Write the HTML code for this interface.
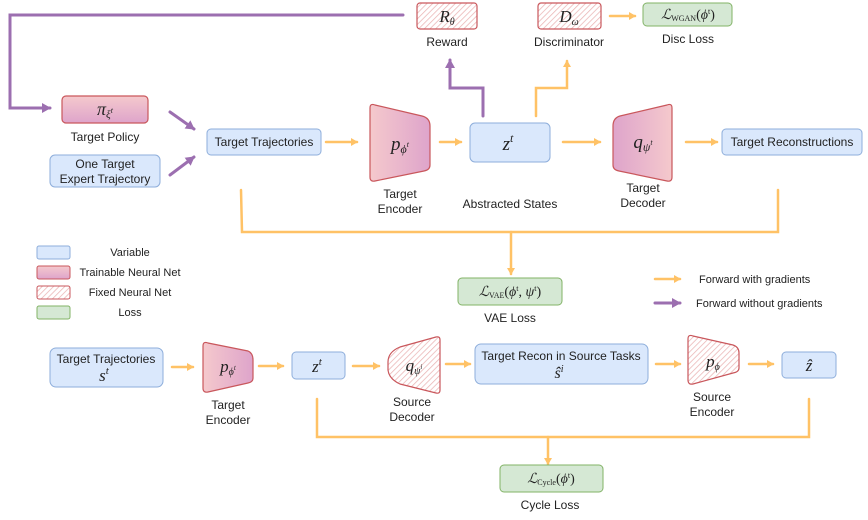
<!DOCTYPE html>
<html><head><meta charset="utf-8"><style>
html,body{margin:0;padding:0;background:#fff;}
svg{display:block;}
text{font-family:"Liberation Sans",sans-serif;fill:#222;}
.m{font-family:"Liberation Serif",serif;font-style:italic;font-weight:normal;}
.mr{font-family:"Liberation Serif",serif;}
</style></head><body>
<svg width="868" height="520" viewBox="0 0 868 520" xmlns="http://www.w3.org/2000/svg">
<defs>
<linearGradient id="gE" x1="0" x2="1"><stop offset="0" stop-color="#f5c9cc"/><stop offset="1" stop-color="#dea4cb"/></linearGradient>
<linearGradient id="gD" x1="0" x2="1"><stop offset="0" stop-color="#dea4cb"/><stop offset="1" stop-color="#f5c9cc"/></linearGradient>
<linearGradient id="gP" x1="0" x2="0" y1="0" y2="1"><stop offset="0" stop-color="#f5c9cc"/><stop offset="1" stop-color="#dea4cb"/></linearGradient>
<pattern id="h" width="4" height="4" patternUnits="userSpaceOnUse" patternTransform="rotate(45)"><rect width="4" height="4" fill="#fff"/><line x1="0" y1="0" x2="0" y2="4" stroke="#eab3b3" stroke-width="1.5"/></pattern>
<marker id="ao" markerWidth="8" markerHeight="8" refX="6" refY="4" orient="auto" markerUnits="userSpaceOnUse"><path d="M0,0 L7,4 L0,8 Z" fill="#ffc266"/></marker>
<marker id="ap" markerWidth="10" markerHeight="10" refX="8" refY="5" orient="auto" markerUnits="userSpaceOnUse"><path d="M0,0 L9,5 L0,10 Z" fill="#9c6fb0"/></marker>
</defs>
<g fill="none" stroke-width="3" stroke-linecap="round">
<path d="M403,15 L10,15 L10,108 L50,108" stroke="#9c6fb0" marker-end="url(#ap)"/>
<path d="M170,112 L194,129" stroke="#9c6fb0" marker-end="url(#ap)"/>
<path d="M170,175 L194,157" stroke="#9c6fb0" marker-end="url(#ap)"/>
<path d="M483,116 L483,88 L450,88 L450,60" stroke="#9c6fb0" marker-end="url(#ap)"/>
<path d="M655,303 L680,303" stroke="#9c6fb0" marker-end="url(#ap)"/>
</g>
<g fill="none" stroke="#ffc266" stroke-width="2.5" stroke-linecap="round">
<path d="M326,142 L357,142" marker-end="url(#ao)"/>
<path d="M440,142 L461,142" marker-end="url(#ao)"/>
<path d="M563,142 L600,142" marker-end="url(#ao)"/>
<path d="M686,142 L717,142" marker-end="url(#ao)"/>
<path d="M536,116 L536,88 L567,88 L567,61" marker-end="url(#ao)"/>
<path d="M610,16 L635,16" marker-end="url(#ao)"/>
<path d="M241,190 L242,232 L778,232 L778,190"/>
<path d="M511,232 L511,274" marker-end="url(#ao)"/>
<path d="M655,279 L680,279" marker-end="url(#ao)"/>
<path d="M172,367 L193,367" marker-end="url(#ao)"/>
<path d="M259,366 L283,366" marker-end="url(#ao)"/>
<path d="M353,366 L379,366" marker-end="url(#ao)"/>
<path d="M446,364 L470,364" marker-end="url(#ao)"/>
<path d="M656,364 L680,364" marker-end="url(#ao)"/>
<path d="M749,364 L773,364" marker-end="url(#ao)"/>
<path d="M317,399 L317,437 L809,437 L809,399"/>
<path d="M548,437 L548,464" marker-end="url(#ao)"/>
</g>
<rect x="62" y="96" width="86" height="27" rx="4" fill="url(#gP)" stroke="#c9575c" stroke-width="1.2"/>
<text x="105" y="115" text-anchor="middle" class="m" font-size="18">π<tspan font-size="11" dy="3">ξ</tspan><tspan font-size="8" dy="-5">t</tspan></text>
<text x="105" y="141" text-anchor="middle" font-size="12">Target Policy</text>
<rect x="50" y="155" width="110" height="32" rx="5" fill="#dae8fc" stroke="#8eaedb" stroke-width="1"/>
<text x="105" y="168" text-anchor="middle" font-size="12">One Target</text>
<text x="105" y="183" text-anchor="middle" font-size="12">Expert Trajectory</text>
<rect x="207" y="129" width="114" height="26" rx="4" fill="#dae8fc" stroke="#8eaedb" stroke-width="1"/>
<text x="264" y="146" text-anchor="middle" font-size="12">Target Trajectories</text>
<path d="M370,108 Q370,103 375,105 L422,116 Q430,118 430,126 L430,165 Q430,170 424,171 L375,181 Q370,182 370,177 Z" fill="url(#gE)" stroke="#c9575c" stroke-width="1.2"/>
<text x="400" y="150" text-anchor="middle" class="m" font-size="19">p<tspan font-size="12" dy="3">ϕ</tspan><tspan font-size="8" dy="-6">t</tspan></text>
<text x="400" y="198" text-anchor="middle" font-size="12">Target</text>
<text x="400" y="213" text-anchor="middle" font-size="12">Encoder</text>
<rect x="470" y="123" width="80" height="39" rx="5" fill="#dae8fc" stroke="#8eaedb" stroke-width="1"/>
<text x="508" y="150" text-anchor="middle" class="m" font-size="19">z<tspan font-size="12" dy="-8">t</tspan></text>
<text x="510" y="208" text-anchor="middle" font-size="12">Abstracted States</text>
<path d="M672,108 Q672,103 667,105 L620,116 Q613,118 613,126 L613,165 Q613,170 619,171 L667,181 Q672,182 672,177 Z" fill="url(#gD)" stroke="#c9575c" stroke-width="1.2"/>
<text x="643" y="148" text-anchor="middle" class="m" font-size="19">q<tspan font-size="12" dy="3">ψ</tspan><tspan font-size="8" dy="-6">t</tspan></text>
<text x="643" y="192" text-anchor="middle" font-size="12">Target</text>
<text x="643" y="207" text-anchor="middle" font-size="12">Decoder</text>
<rect x="722" y="129" width="140" height="26" rx="4" fill="#dae8fc" stroke="#8eaedb" stroke-width="1"/>
<text x="792" y="146" text-anchor="middle" font-size="12">Target Reconstructions</text>
<rect x="417" y="3" width="60" height="26" rx="3" fill="url(#h)" stroke="#c9575c" stroke-width="1.2"/>
<text x="447" y="22" text-anchor="middle" class="m" font-size="17">R<tspan font-size="10" dy="3">θ</tspan></text>
<text x="447" y="46" text-anchor="middle" font-size="12">Reward</text>
<rect x="538" y="3" width="63" height="26" rx="3" fill="url(#h)" stroke="#c9575c" stroke-width="1.2"/>
<text x="569" y="22" text-anchor="middle" class="m" font-size="17">D<tspan font-size="10" dy="3">ω</tspan></text>
<text x="569" y="46" text-anchor="middle" font-size="12">Discriminator</text>
<rect x="643" y="3" width="89" height="23" rx="4" fill="#d5e8d4" stroke="#82b366" stroke-width="1"/>
<text x="688" y="19" text-anchor="middle" class="mr" font-size="14"><tspan font-style="italic">ℒ</tspan><tspan font-size="8" dy="2">WGAN</tspan><tspan dy="-2">(</tspan><tspan font-style="italic">ϕ</tspan><tspan font-size="8" dy="-5">t</tspan><tspan dy="5">)</tspan></text>
<text x="688" y="43" text-anchor="middle" font-size="12">Disc Loss</text>
<rect x="458" y="278" width="104" height="27" rx="4" fill="#d5e8d4" stroke="#82b366" stroke-width="1"/>
<text x="510" y="296" text-anchor="middle" class="mr" font-size="14"><tspan font-style="italic">ℒ</tspan><tspan font-size="8" dy="2">VAE</tspan><tspan dy="-2">(</tspan><tspan font-style="italic">ϕ</tspan><tspan font-size="8" dy="-5">t</tspan><tspan dy="5">, </tspan><tspan font-style="italic">ψ</tspan><tspan font-size="8" dy="-5">t</tspan><tspan dy="5">)</tspan></text>
<text x="510" y="322" text-anchor="middle" font-size="12">VAE Loss</text>
<rect x="37" y="246" width="33" height="13" rx="2" fill="#dae8fc" stroke="#8eaedb"/>
<rect x="37" y="266" width="33" height="13" rx="2" fill="url(#gP)" stroke="#c9575c"/>
<rect x="37" y="286" width="33" height="13" rx="2" fill="url(#h)" stroke="#c9575c"/>
<rect x="37" y="306" width="33" height="13" rx="2" fill="#d5e8d4" stroke="#82b366"/>
<text x="130" y="256" text-anchor="middle" font-size="11">Variable</text>
<text x="130" y="276" text-anchor="middle" font-size="11">Trainable Neural Net</text>
<text x="130" y="296" text-anchor="middle" font-size="11">Fixed Neural Net</text>
<text x="130" y="316" text-anchor="middle" font-size="11">Loss</text>
<text x="699" y="283" font-size="11">Forward with gradients</text>
<text x="696" y="307" font-size="11">Forward without gradients</text>
<rect x="50" y="348" width="113" height="39" rx="6" fill="#dae8fc" stroke="#8eaedb" stroke-width="1"/>
<text x="106" y="363" text-anchor="middle" font-size="12">Target Trajectories</text>
<text x="104" y="381" text-anchor="middle" class="m" font-size="17">s<tspan font-size="11" dy="-7">t</tspan></text>
<path d="M203,346 Q203,341 208,343 L248,351 Q253,353 253,360 L253,378 Q253,382 248,383 L208,392 Q203,393 203,388 Z" fill="url(#gE)" stroke="#c9575c" stroke-width="1.2"/>
<text x="228" y="372" text-anchor="middle" class="m" font-size="17">p<tspan font-size="10" dy="3">ϕ</tspan><tspan font-size="7" dy="-5">t</tspan></text>
<text x="228" y="409" text-anchor="middle" font-size="12">Target</text>
<text x="228" y="424" text-anchor="middle" font-size="12">Encoder</text>
<rect x="292" y="352" width="53" height="27" rx="4" fill="#dae8fc" stroke="#8eaedb" stroke-width="1"/>
<text x="317" y="372" text-anchor="middle" class="m" font-size="17">z<tspan font-size="11" dy="-7">t</tspan></text>
<path d="M440,340 Q440,336 436,337 L400,347 Q388,352 388,362 L388,370 Q389,379 400,384 L436,393 Q440,394 440,390 Z" fill="url(#h)" stroke="#c9575c" stroke-width="1.2"/>
<text x="414" y="371" text-anchor="middle" class="m" font-size="17">q<tspan font-size="10" dy="3">ψ</tspan><tspan font-size="7" dy="-5">i</tspan></text>
<text x="412" y="406" text-anchor="middle" font-size="12">Source</text>
<text x="412" y="421" text-anchor="middle" font-size="12">Decoder</text>
<rect x="475" y="344" width="173" height="40" rx="6" fill="#dae8fc" stroke="#8eaedb" stroke-width="1"/>
<text x="561" y="360" text-anchor="middle" font-size="12">Target Recon in Source Tasks</text>
<text x="559" y="378" text-anchor="middle" class="m" font-size="16">ŝ<tspan font-size="10" dy="-6">i</tspan></text>
<path d="M688,339 Q688,334 693,336 L733,345 Q739,347 739,353 L739,368 Q739,372 733,373 L693,384 Q688,385 688,380 Z" fill="url(#h)" stroke="#c9575c" stroke-width="1.2"/>
<text x="713" y="367" text-anchor="middle" class="m" font-size="17">p<tspan font-size="10" dy="3">ϕ</tspan></text>
<text x="712" y="401" text-anchor="middle" font-size="12">Source</text>
<text x="712" y="416" text-anchor="middle" font-size="12">Encoder</text>
<rect x="782" y="352" width="54" height="26" rx="4" fill="#dae8fc" stroke="#8eaedb" stroke-width="1"/>
<text x="809" y="371" text-anchor="middle" class="m" font-size="17">ẑ</text>
<rect x="500" y="465" width="103" height="27" rx="4" fill="#d5e8d4" stroke="#82b366" stroke-width="1"/>
<text x="551" y="483" text-anchor="middle" class="mr" font-size="14"><tspan font-style="italic">ℒ</tspan><tspan font-size="8" dy="2">Cycle</tspan><tspan dy="-2">(</tspan><tspan font-style="italic">ϕ</tspan><tspan font-size="8" dy="-5">t</tspan><tspan dy="5">)</tspan></text>
<text x="550" y="509" text-anchor="middle" font-size="12">Cycle Loss</text>
</svg>
</body></html>
